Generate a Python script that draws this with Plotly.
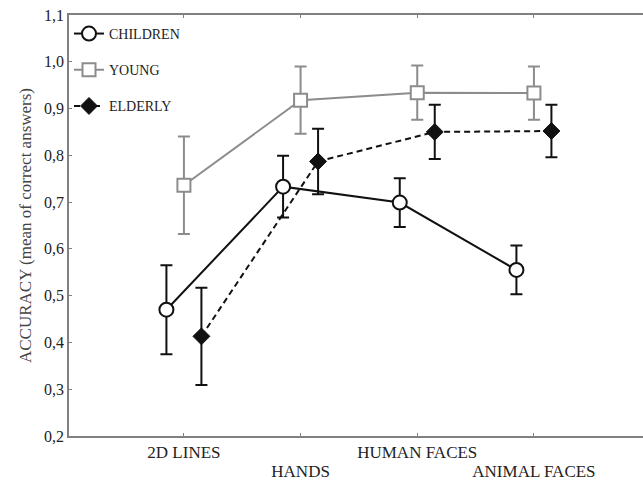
import plotly.graph_objects as go

categories = ["2D LINES", "HANDS", "HUMAN FACES", "ANIMAL FACES"]
offsets = {"CHILDREN": -0.15, "YOUNG": 0.0, "ELDERLY": 0.15}

children_mean = [0.470, 0.733, 0.699, 0.555]
children_err = [0.095, 0.066, 0.052, 0.052]
young_mean = [0.736, 0.918, 0.934, 0.933]
young_err = [0.104, 0.072, 0.058, 0.057]
elderly_mean = [0.413, 0.787, 0.850, 0.852]
elderly_err = [0.104, 0.070, 0.058, 0.056]

y_ticks = [0.2, 0.3, 0.4, 0.5, 0.6, 0.7, 0.8, 0.9, 1.0, 1.1]

FONT = "Liberation Serif"
BLACK = "#111111"
GRAY = "#8c8c8c"

pos = list(range(len(categories)))
# staggered labels: even categories on first row, odd on second row
row1_text = [c if i % 2 == 0 else "" for i, c in enumerate(categories)]
row2_vals = [p for p in pos if p % 2 == 1]
row2_text = [categories[p] for p in row2_vals]

def xs(name):
    return [p + offsets[name] for p in pos]

fig = go.Figure()
fig.add_trace(go.Scatter(
    x=xs("CHILDREN"), y=children_mean, name="CHILDREN", legendgroup="c",
    mode="lines+markers",
    line=dict(color=BLACK, width=2),
    marker=dict(symbol="circle", size=14, color="white", line=dict(color=BLACK, width=2)),
    error_y=dict(type="data", array=children_err, color=BLACK, thickness=2, width=6),
))
fig.add_trace(go.Scatter(
    x=xs("YOUNG"), y=young_mean, name="YOUNG", legendgroup="y",
    mode="lines+markers",
    line=dict(color=GRAY, width=2),
    marker=dict(symbol="square", size=13, color="white", line=dict(color=GRAY, width=2)),
    error_y=dict(type="data", array=young_err, color=GRAY, thickness=2, width=6),
))
fig.add_trace(go.Scatter(
    x=xs("ELDERLY"), y=elderly_mean, name="ELDERLY", legendgroup="e",
    mode="lines+markers",
    line=dict(color=BLACK, width=2, dash="6px,4px"),
    marker=dict(symbol="diamond", size=13, color=BLACK, line=dict(color=BLACK, width=1)),
    error_y=dict(type="data", array=elderly_err, color=BLACK, thickness=2, width=6),
))
# empty helper trace so the second-row label axis is created
fig.add_trace(go.Scatter(x=[], y=[], xaxis="x2", yaxis="y", showlegend=False,
                         hoverinfo="skip"))

XR = [-0.985, 3.935]
fig.update_layout(
    width=643, height=481,
    margin=dict(l=69, r=0, t=15, b=45, autoexpand=False),
    paper_bgcolor="white", plot_bgcolor="white",
    font=dict(family=FONT, color="#333333", size=15),
    separators=",.",
    showlegend=True,
    legend=dict(x=0.0, y=0.993, xanchor="left", yanchor="top",
                bgcolor="rgba(0,0,0,0)", font=dict(family=FONT, size=14, color="#222222"),
                tracegroupgap=15, itemwidth=30),
    xaxis=dict(
        range=XR,
        tickmode="array", tickvals=pos, ticktext=row1_text,
        tickangle=0, automargin=False,
        showgrid=False, zeroline=False,
        showline=True, linecolor="#808080", linewidth=1.5, mirror="ticks",
        ticks="inside", ticklen=3, tickcolor="#808080",
        tickfont=dict(family=FONT, size=17, color="#222222"),
    ),
    xaxis2=dict(
        range=XR, overlaying="x", anchor="y", side="bottom",
        tickmode="array", tickvals=row2_vals, ticktext=row2_text,
        tickangle=0, automargin=False,
        showgrid=False, zeroline=False, showline=False, ticks="",
        ticklabelstandoff=23,
        tickfont=dict(family=FONT, size=17, color="#222222"),
    ),
    yaxis=dict(
        range=[0.2, 1.1],
        tickmode="array", tickvals=y_ticks,
        tickformat=".1f", automargin=False,
        showgrid=False, zeroline=False,
        showline=True, linecolor="#808080", linewidth=1.5, mirror=False,
        ticks="inside", ticklen=3, tickcolor="#808080",
        tickfont=dict(family=FONT, size=16, color="#222222"),
        title=dict(text="ACCURACY (mean of correct answers)",
                   font=dict(family=FONT, size=17, color="#444444"), standoff=8),
    ),
)

fig.write_html("out.html")
